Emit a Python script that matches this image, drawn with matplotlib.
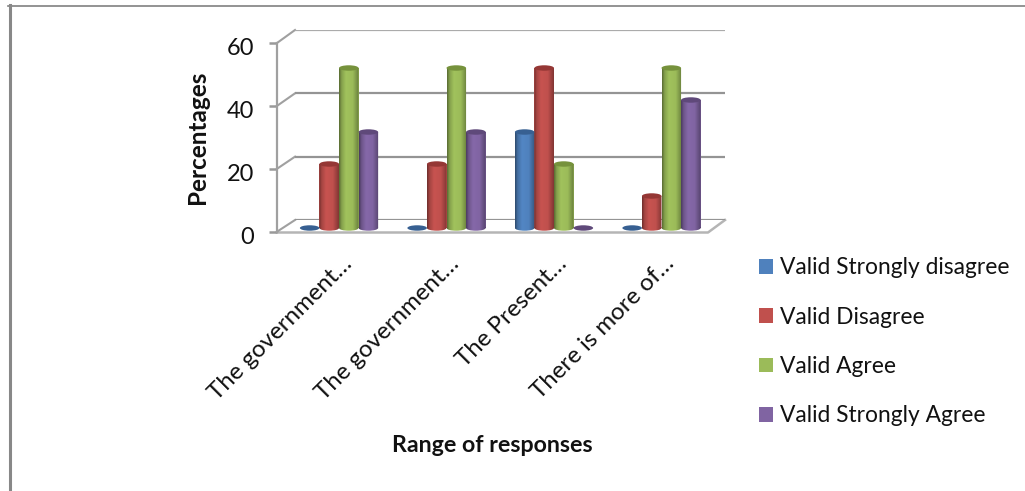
import numpy as np
from matplotlib import pyplot as plt
from matplotlib.patches import Ellipse, Patch, Polygon
from matplotlib.path import Path
from matplotlib.transforms import ScaledTranslation, TransformedPath

categories = ["The government…", "The government…", "The Present…", "There is more of…"]
series_names = ["Valid Strongly disagree", "Valid Disagree", "Valid Agree", "Valid Strongly Agree"]
strongly_disagree = [0, 0, 30, 0]
disagree = [20, 20, 50, 10]
agree = [50, 50, 20, 50]
strongly_agree = [30, 30, 0, 40]
y_ticks = [0, 20, 40, 60]

colors = ["#4F81BD", "#C0504D", "#9BBB59", "#8064A2"]
top_colors = ["#376092", "#953735", "#76923C", "#5F497A"]

W, H = 1025, 491
FONT = "Lato"
BAR_W = 0.182
CAP_H = 1.7


def axes_px(fig, left, top, right, bottom, **kw):
    return fig.add_axes([left / W, 1 - bottom / H, (right - left) / W, (bottom - top) / H], **kw)


def cylinder(ax, x, value, color, top_color):
    left = x - BAR_W / 2
    if value > 0:
        rect = ax.bar(x, value, BAR_W, color=color, align="center", zorder=3)[0]
        foot = Ellipse((x, 0), BAR_W, CAP_H)
        paths = [rect.get_path().transformed(rect.get_patch_transform()),
                 foot.get_path().transformed(foot.get_patch_transform())]
        shape = Path.make_compound_path(*paths)
        pos = np.linspace(0, 1, 40)
        shade = np.interp(pos, [0, 0.12, 0.35, 0.7, 1], [0.58, 0.85, 1.04, 1.0, 0.68])
        rgb = np.array(plt.matplotlib.colors.to_rgb(color))
        grad = np.clip(shade[None, :, None] * rgb[None, None, :], 0, 1)
        im = ax.imshow(grad, extent=(left, left + BAR_W, -CAP_H, value), aspect="auto",
                       zorder=4, interpolation="bilinear")
        im.set_clip_path(TransformedPath(shape, ax.transData))
    ax.add_patch(Ellipse((x, value), BAR_W, CAP_H, facecolor=top_color, edgecolor="none", zorder=5))


def main():
    plt.rcParams["font.family"] = [FONT, "DejaVu Sans"]
    fig = plt.figure(figsize=(W / 100, H / 100), dpi=100, facecolor="white")

    # frame, floor and the depth lines, in pixels
    chrome = fig.add_axes([0, 0, 1, 1], zorder=0)
    chrome.set_xlim(0, W)
    chrome.set_ylim(H, 0)
    chrome.axis("off")
    chrome.plot([8, W], [5.5, 5.5], color="#808080", lw=1.2)
    chrome.plot([9.5, 9.5], [5, H], color="#888888", lw=2.2)
    chrome.add_patch(Polygon([(277, 232), (708, 232), (725, 220), (295, 220)], closed=True,
                             facecolor="white", edgecolor="none", zorder=2))
    chrome.plot([277, 708, 725], [232.5, 232.5, 220], color="#b5b5b5", lw=1.8, zorder=3)
    for t in y_ticks:
        yf = 231.7 - t * (231.7 - 43) / 60
        yb = 220 - t * (220 - 30) / 60
        chrome.plot([277, 295], [yf, yb], color="#a0a0a0", lw=1.5, zorder=3)

    # back wall
    back = axes_px(fig, 295, 30, 725, 220, zorder=1, facecolor="none")
    back.set_ylim(0, 60)
    back.set_xticks([])
    back.set_yticks(y_ticks)
    back.tick_params(length=0, labelleft=False)
    back.grid(axis="y", color="#949494", lw=1.6)
    for s in back.spines.values():
        s.set_visible(False)
    back.get_ygridlines()[-1].set_color("#ababab")

    # value axis at the front
    front = axes_px(fig, 277, 43, 708, 231.7, zorder=1, facecolor="none")
    front.set_ylim(0, 60)
    front.set_xticks([])
    front.set_yticks(y_ticks)
    front.tick_params(axis="y", length=6, width=1.8, color="#999999", pad=10.5,
                      labelsize=17, labelcolor="#111111")
    shift_down = ScaledTranslation(0, -3.5 / 100, fig.dpi_scale_trans)
    for lab in front.get_yticklabels():
        lab.set_transform(lab.get_transform() + shift_down)
    for name, s in front.spines.items():
        s.set_visible(name == "left")
    front.spines["left"].set_color("#a0a0a0")
    front.spines["left"].set_linewidth(1.6)

    # bars
    ax = axes_px(fig, 285.25, 36, 715.25, 237.6, zorder=4, facecolor="none")
    all_series = [strongly_disagree, disagree, agree, strongly_agree]
    for j, values in enumerate(all_series):
        for i, v in enumerate(values):
            cylinder(ax, i + (j - 1.5) * BAR_W, v, colors[j], top_colors[j])
    ax.set_xlim(-0.5, 3.5)
    ax.set_ylim(-3, 60)
    ax.set_yticks([])
    ax.set_xticks(range(len(categories)))
    ax.set_xticklabels(categories, rotation=45, ha="right", va="top", rotation_mode="anchor",
                       fontsize=17.3, color="#111111")
    ax.tick_params(axis="x", length=0, pad=11)
    shift_right = ScaledTranslation(2 / 100, 0, fig.dpi_scale_trans)
    for lab in ax.get_xticklabels():
        lab.set_transform(lab.get_transform() + shift_right)
    for s in ax.spines.values():
        s.set_visible(False)

    fig.text(197.5 / W, 1 - 137 / H, "Percentages", rotation=90, ha="center", va="center",
             fontsize=17.5, fontweight="bold", color="#111111")
    fig.text(492 / W, 1 - 445 / H, "Range of responses", ha="center", va="center",
             fontsize=16.7, fontweight="bold", color="#111111")

    handles = [Patch(facecolor=c, edgecolor="none") for c in colors]
    fig.legend(handles, series_names, loc="upper left", bbox_to_anchor=(759 / W, 1 - 257.5 / H),
               frameon=False, fontsize=16.4, handlelength=0.62, handleheight=0.62,
               handletextpad=0.31, labelspacing=1.24, borderpad=0, borderaxespad=0,
               labelcolor="#111111")

    fig.savefig("out.png", dpi=100)


if __name__ == "__main__":
    main()
